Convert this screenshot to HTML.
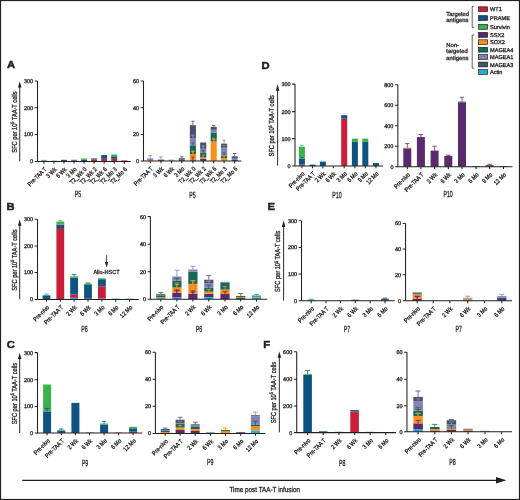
<!DOCTYPE html><html><head><meta charset="utf-8"><title>Figure</title><style>
html,body{margin:0;padding:0;background:#fff;overflow:hidden}svg{display:block;will-change:transform}text{text-rendering:geometricPrecision;font-family:"Liberation Sans",sans-serif;fill:#231f20;stroke:#231f20;stroke-width:0.3px}
</style></head><body>
<svg width="520" height="500" viewBox="0 0 520 500">
<rect x="0" y="0" width="520" height="500" fill="#fff"/>
<rect x="40.95" y="160.6" width="5.9" height="0.8" fill="#0f5383"/>
<rect x="40.95" y="159.9" width="5.9" height="0.7" fill="#3ab34c"/>
<rect x="50.99" y="160.6" width="5.9" height="0.8" fill="#3ab34c"/>
<rect x="61.03" y="159.8" width="5.9" height="1.6" fill="#0f5383"/>
<rect x="71.07" y="160.6" width="5.9" height="0.8" fill="#c8203a"/>
<rect x="71.07" y="159.8" width="5.9" height="0.8" fill="#0f5383"/>
<rect x="81.11" y="159.9" width="5.9" height="1.5" fill="#0f5383"/>
<rect x="81.11" y="158.5" width="5.9" height="1.4" fill="#3ab34c"/>
<rect x="91.15" y="159.7" width="5.9" height="1.7" fill="#c8203a"/>
<rect x="91.15" y="159.1" width="5.9" height="0.6" fill="#0f5383"/>
<rect x="91.15" y="158.4" width="5.9" height="0.7" fill="#c8203a"/>
<rect x="101.19" y="158.8" width="5.9" height="2.6" fill="#c8203a"/>
<rect x="101.19" y="155.1" width="5.9" height="3.7" fill="#0f5383"/>
<rect x="111.23" y="158.8" width="5.9" height="2.6" fill="#c8203a"/>
<rect x="111.23" y="156.3" width="5.9" height="2.5" fill="#0f5383"/>
<rect x="111.23" y="154.5" width="5.9" height="1.8" fill="#3ab34c"/>
<rect x="121.27" y="160.4" width="5.9" height="1" fill="#c8203a"/>
<path d="M37.5 80.9V161.4M34.7 80.9H37.5M34.7 107.7H37.5M34.7 134.4H37.5M34.7 161.4H37.5M34.7 161.4H130.8M43.9 161.4V163.8M53.94 161.4V163.8M63.98 161.4V163.8M74.02 161.4V163.8M84.06 161.4V163.8M94.1 161.4V163.8M104.14 161.4V163.8M114.18 161.4V163.8M124.22 161.4V163.8" stroke="#231f20" stroke-width="1.05" fill="none"/>
<text x="33.1" y="82.8" font-size="5.5" text-anchor="end">300</text>
<text x="33.1" y="109.6" font-size="5.5" text-anchor="end">200</text>
<text x="33.1" y="136.3" font-size="5.5" text-anchor="end">100</text>
<text x="33.1" y="163.3" font-size="5.5" text-anchor="end">0</text>
<text transform="translate(47 169.8) rotate(-45) scale(0.85 1)" font-size="6.2" text-anchor="end">Pre-TAA T</text>
<text transform="translate(57.04 169.8) rotate(-45) scale(0.85 1)" font-size="6.2" text-anchor="end">3 Wk</text>
<text transform="translate(67.08 169.8) rotate(-45) scale(0.85 1)" font-size="6.2" text-anchor="end">6 Wk</text>
<text transform="translate(77.12 169.8) rotate(-45) scale(0.85 1)" font-size="6.2" text-anchor="end">3 Mo</text>
<text transform="translate(87.16 169.8) rotate(-45) scale(0.85 1)" font-size="6.2" text-anchor="end">T2_Wk 0</text>
<text transform="translate(97.2 169.8) rotate(-45) scale(0.85 1)" font-size="6.2" text-anchor="end">T2_Wk 2</text>
<text transform="translate(107.24 169.8) rotate(-45) scale(0.85 1)" font-size="6.2" text-anchor="end">T2_Wk 6</text>
<text transform="translate(117.28 169.8) rotate(-45) scale(0.85 1)" font-size="6.2" text-anchor="end">T2_Mo 3</text>
<text transform="translate(127.32 169.8) rotate(-45) scale(0.85 1)" font-size="6.2" text-anchor="end">T2_Mo 6</text>
<text transform="translate(78 197.3) scale(0.6 1)" font-size="8.8" text-anchor="middle">P5</text>
<rect x="147.15" y="160" width="6.1" height="0.9" fill="#f7901e"/>
<rect x="147.15" y="158.4" width="6.1" height="1.6" fill="#8680ba"/>
<rect x="157.95" y="159.8" width="6.1" height="1.1" fill="#5a2a6c"/>
<rect x="157.95" y="159.4" width="6.1" height="0.4" fill="#8680ba"/>
<rect x="168.45" y="160.4" width="6.1" height="0.5" fill="#f7901e"/>
<rect x="168.45" y="159.7" width="6.1" height="0.7" fill="#25aae3"/>
<rect x="178.75" y="159.5" width="6.1" height="1.4" fill="#5a2a6c"/>
<rect x="178.75" y="158.2" width="6.1" height="1.3" fill="#465565"/>
<rect x="189.85" y="160.2" width="6.1" height="0.7" fill="#5a2a6c"/>
<rect x="189.85" y="154" width="6.1" height="6.2" fill="#f7901e"/>
<rect x="189.85" y="146" width="6.1" height="8" fill="#126a56"/>
<rect x="189.85" y="138.5" width="6.1" height="7.5" fill="#8680ba"/>
<rect x="189.85" y="125.2" width="6.1" height="13.3" fill="#465565"/>
<rect x="200.15" y="158.7" width="6.1" height="2.2" fill="#5a2a6c"/>
<rect x="200.15" y="157.5" width="6.1" height="1.2" fill="#f7901e"/>
<rect x="200.15" y="152.9" width="6.1" height="4.6" fill="#126a56"/>
<rect x="200.15" y="148.8" width="6.1" height="4.1" fill="#8680ba"/>
<rect x="200.15" y="142.5" width="6.1" height="6.3" fill="#465565"/>
<rect x="210.65" y="141.3" width="6.1" height="19.6" fill="#f7901e"/>
<rect x="210.65" y="132.7" width="6.1" height="8.6" fill="#126a56"/>
<rect x="210.65" y="129.8" width="6.1" height="2.9" fill="#8680ba"/>
<rect x="210.65" y="126.9" width="6.1" height="2.9" fill="#465565"/>
<rect x="221.05" y="158" width="6.1" height="2.9" fill="#f7901e"/>
<rect x="221.05" y="155.8" width="6.1" height="2.2" fill="#126a56"/>
<rect x="221.05" y="147.7" width="6.1" height="8.1" fill="#8680ba"/>
<rect x="221.05" y="143.6" width="6.1" height="4.1" fill="#465565"/>
<rect x="231.65" y="160" width="6.1" height="0.9" fill="#5a2a6c"/>
<rect x="231.65" y="158" width="6.1" height="2" fill="#8680ba"/>
<rect x="231.65" y="156.3" width="6.1" height="1.7" fill="#465565"/>
<path d="M192.9 161.7V157.2M191.38 157.2H194.43" stroke="#5a2a6c" stroke-width="0.8" fill="none"/>
<path d="M192.9 155.5V151M191.38 151H194.43" stroke="#f7901e" stroke-width="0.8" fill="none"/>
<path d="M192.9 147.5V143M191.38 143H194.43" stroke="#126a56" stroke-width="0.8" fill="none"/>
<path d="M192.9 140V135.5M191.38 135.5H194.43" stroke="#8680ba" stroke-width="0.8" fill="none"/>
<path d="M203.2 159V154.97M201.67 154.97H204.72" stroke="#f7901e" stroke-width="0.8" fill="none"/>
<path d="M203.2 154.4V150.65M201.67 150.65H204.72" stroke="#126a56" stroke-width="0.8" fill="none"/>
<path d="M203.2 150.3V145.8M201.67 145.8H204.72" stroke="#8680ba" stroke-width="0.8" fill="none"/>
<path d="M213.7 142.8V138.3M212.17 138.3H215.22" stroke="#f7901e" stroke-width="0.8" fill="none"/>
<path d="M224.1 157.3V152.8M222.57 152.8H225.62" stroke="#126a56" stroke-width="0.8" fill="none"/>
<path d="M224.1 149.2V145.44M222.57 145.44H225.62" stroke="#8680ba" stroke-width="0.8" fill="none"/>
<path d="M150.2 158.4V155.7M148.52 155.7H151.88" stroke="#8680ba" stroke-width="0.8" fill="none"/>
<path d="M161 159.4V156.8M159.32 156.8H162.68" stroke="#8680ba" stroke-width="0.8" fill="none"/>
<path d="M181.8 158.2V156.8M180.12 156.8H183.48" stroke="#465565" stroke-width="0.8" fill="none"/>
<path d="M192.9 125.2V121.2M191.22 121.2H194.58" stroke="#465565" stroke-width="0.8" fill="none"/>
<path d="M192.9 138.5V135M191.22 135H194.58" stroke="#8680ba" stroke-width="0.8" fill="none"/>
<path d="M192.9 154V151.5M191.22 151.5H194.58" stroke="#f7901e" stroke-width="0.8" fill="none"/>
<path d="M203.2 148.8V146.5M201.52 146.5H204.88" stroke="#8680ba" stroke-width="0.8" fill="none"/>
<path d="M213.7 126.9V125.5M212.02 125.5H215.38" stroke="#465565" stroke-width="0.8" fill="none"/>
<path d="M213.7 141.3V139.5M212.02 139.5H215.38" stroke="#f7901e" stroke-width="0.8" fill="none"/>
<path d="M224.1 143.6V140.2M222.42 140.2H225.78" stroke="#8680ba" stroke-width="0.8" fill="none"/>
<path d="M224.1 158V156M222.42 156H225.78" stroke="#f7901e" stroke-width="0.8" fill="none"/>
<path d="M234.7 156.3V153.5M233.02 153.5H236.38" stroke="#465565" stroke-width="0.8" fill="none"/>
<path d="M143.5 81V160.9M140.7 81H143.5M140.7 107.7H143.5M140.7 134.4H143.5M140.7 160.9H143.5M140.7 160.9H241.3M150.2 160.9V163.3M161 160.9V163.3M171.5 160.9V163.3M181.8 160.9V163.3M192.9 160.9V163.3M203.2 160.9V163.3M213.7 160.9V163.3M224.1 160.9V163.3M234.7 160.9V163.3" stroke="#231f20" stroke-width="1.05" fill="none"/>
<text x="139.1" y="82.9" font-size="5.5" text-anchor="end">60</text>
<text x="139.1" y="109.6" font-size="5.5" text-anchor="end">40</text>
<text x="139.1" y="136.3" font-size="5.5" text-anchor="end">20</text>
<text x="139.1" y="162.8" font-size="5.5" text-anchor="end">0</text>
<text transform="translate(153.3 169.3) rotate(-45) scale(0.85 1)" font-size="6.2" text-anchor="end">Pre-TAA T</text>
<text transform="translate(164.1 169.3) rotate(-45) scale(0.85 1)" font-size="6.2" text-anchor="end">3 Wk</text>
<text transform="translate(174.6 169.3) rotate(-45) scale(0.85 1)" font-size="6.2" text-anchor="end">6 Wk</text>
<text transform="translate(184.9 169.3) rotate(-45) scale(0.85 1)" font-size="6.2" text-anchor="end">3 Mo</text>
<text transform="translate(196 169.3) rotate(-45) scale(0.85 1)" font-size="6.2" text-anchor="end">T2_Wk 0</text>
<text transform="translate(206.3 169.3) rotate(-45) scale(0.85 1)" font-size="6.2" text-anchor="end">T2_Wk 2</text>
<text transform="translate(216.8 169.3) rotate(-45) scale(0.85 1)" font-size="6.2" text-anchor="end">T2_Wk 6</text>
<text transform="translate(227.2 169.3) rotate(-45) scale(0.85 1)" font-size="6.2" text-anchor="end">T2_Mo 3</text>
<text transform="translate(237.8 169.3) rotate(-45) scale(0.85 1)" font-size="6.2" text-anchor="end">T2_Mo 6</text>
<text transform="translate(192.5 197.6) scale(0.6 1)" font-size="8.8" text-anchor="middle">P5</text>
<rect x="298.9" y="164.5" width="6" height="1.4" fill="#c8203a"/>
<rect x="298.9" y="158.8" width="6" height="5.7" fill="#0f5383"/>
<rect x="298.9" y="146.7" width="6" height="12.1" fill="#3ab34c"/>
<rect x="309.5" y="164.6" width="6" height="1.3" fill="#0f5383"/>
<rect x="319.9" y="161.6" width="6" height="4.3" fill="#0f5383"/>
<rect x="341.2" y="118.7" width="6" height="47.2" fill="#c8203a"/>
<rect x="341.2" y="115.2" width="6" height="3.5" fill="#0f5383"/>
<rect x="351.9" y="141.9" width="6" height="24" fill="#0f5383"/>
<rect x="351.9" y="138.6" width="6" height="3.3" fill="#3ab34c"/>
<rect x="362.3" y="141.9" width="6" height="24" fill="#0f5383"/>
<rect x="362.3" y="138.6" width="6" height="3.3" fill="#3ab34c"/>
<rect x="372.9" y="163" width="6" height="2.9" fill="#0f5383"/>
<path d="M301.9 146.7V145.2M300.25 145.2H303.55" stroke="#3ab34c" stroke-width="0.8" fill="none"/>
<path d="M301.9 158.8V157.5M300.25 157.5H303.55" stroke="#0f5383" stroke-width="0.8" fill="none"/>
<path d="M295 84.1V165.9M292.2 84.1H295M292.2 111.6H295M292.2 138.6H295M292.2 165.9H295M292.2 165.9H382.9M301.9 165.9V168.3M312.5 165.9V168.3M322.9 165.9V168.3M333.3 165.9V168.3M344.2 165.9V168.3M354.9 165.9V168.3M365.3 165.9V168.3M375.9 165.9V168.3" stroke="#231f20" stroke-width="1.05" fill="none"/>
<text x="290.6" y="86" font-size="5.5" text-anchor="end">300</text>
<text x="290.6" y="113.5" font-size="5.5" text-anchor="end">200</text>
<text x="290.6" y="140.5" font-size="5.5" text-anchor="end">100</text>
<text x="290.6" y="167.8" font-size="5.5" text-anchor="end">0</text>
<text transform="translate(305 174.3) rotate(-45) scale(0.85 1)" font-size="6.2" text-anchor="end">Pre-nivo</text>
<text transform="translate(315.6 174.3) rotate(-45) scale(0.85 1)" font-size="6.2" text-anchor="end">Pre-TAA T</text>
<text transform="translate(326 174.3) rotate(-45) scale(0.85 1)" font-size="6.2" text-anchor="end">2 Wk</text>
<text transform="translate(336.4 174.3) rotate(-45) scale(0.85 1)" font-size="6.2" text-anchor="end">6 Wk</text>
<text transform="translate(347.3 174.3) rotate(-45) scale(0.85 1)" font-size="6.2" text-anchor="end">3 Mo</text>
<text transform="translate(358 174.3) rotate(-45) scale(0.85 1)" font-size="6.2" text-anchor="end">6 Mo</text>
<text transform="translate(368.4 174.3) rotate(-45) scale(0.85 1)" font-size="6.2" text-anchor="end">9 Mo</text>
<text transform="translate(379 174.3) rotate(-45) scale(0.85 1)" font-size="6.2" text-anchor="end">12 Mo</text>
<text transform="translate(336.9 197.6) scale(0.6 1)" font-size="8.8" text-anchor="middle">P10</text>
<rect x="403.3" y="148.3" width="8" height="18.5" fill="#5a2a6c"/>
<rect x="403.3" y="147.7" width="8" height="0.6" fill="#f7901e"/>
<rect x="416.9" y="137.1" width="8" height="29.7" fill="#5a2a6c"/>
<rect x="430.6" y="150.6" width="8" height="16.2" fill="#5a2a6c"/>
<rect x="444.3" y="155.9" width="8" height="10.9" fill="#5a2a6c"/>
<rect x="458" y="102.3" width="8" height="64.5" fill="#5a2a6c"/>
<rect x="458" y="101.6" width="8" height="0.7" fill="#126a56"/>
<rect x="472" y="166.2" width="8" height="0.6" fill="#0f5383"/>
<rect x="485.6" y="166" width="8" height="0.8" fill="#c8203a"/>
<rect x="485.6" y="165.2" width="8" height="0.8" fill="#5a2a6c"/>
<rect x="499.5" y="166.1" width="8" height="0.7" fill="#5a2a6c"/>
<path d="M407.3 147.7V143.6M405.1 143.6H409.5" stroke="#5a2a6c" stroke-width="0.8" fill="none"/>
<path d="M420.9 137.1V134.5M418.7 134.5H423.1" stroke="#5a2a6c" stroke-width="0.8" fill="none"/>
<path d="M434.6 150.6V146.2M432.4 146.2H436.8" stroke="#5a2a6c" stroke-width="0.8" fill="none"/>
<path d="M448.3 155.9V155.2M446.1 155.2H450.5" stroke="#5a2a6c" stroke-width="0.8" fill="none"/>
<path d="M462 101.6V97.3M459.8 97.3H464.2" stroke="#5a2a6c" stroke-width="0.8" fill="none"/>
<path d="M489.6 165.2V164.3M487.4 164.3H491.8" stroke="#5a2a6c" stroke-width="0.8" fill="none"/>
<path d="M397.85 84.8V166.8M395.05 84.8H397.85M395.05 105.3H397.85M395.05 125.7H397.85M395.05 146.2H397.85M395.05 166.8H397.85M395.05 166.8H512.5M407.3 166.8V169.2M420.9 166.8V169.2M434.6 166.8V169.2M448.3 166.8V169.2M462 166.8V169.2M476 166.8V169.2M489.6 166.8V169.2M503.5 166.8V169.2" stroke="#231f20" stroke-width="1.05" fill="none"/>
<text x="393.45" y="86.7" font-size="5.5" text-anchor="end">800</text>
<text x="393.45" y="107.2" font-size="5.5" text-anchor="end">600</text>
<text x="393.45" y="127.6" font-size="5.5" text-anchor="end">400</text>
<text x="393.45" y="148.1" font-size="5.5" text-anchor="end">200</text>
<text x="393.45" y="168.7" font-size="5.5" text-anchor="end">0</text>
<text transform="translate(410.4 175.2) rotate(-45) scale(0.85 1)" font-size="6.2" text-anchor="end">Pre-nivo</text>
<text transform="translate(424 175.2) rotate(-45) scale(0.85 1)" font-size="6.2" text-anchor="end">Pre-TAA T</text>
<text transform="translate(437.7 175.2) rotate(-45) scale(0.85 1)" font-size="6.2" text-anchor="end">2 Wk</text>
<text transform="translate(451.4 175.2) rotate(-45) scale(0.85 1)" font-size="6.2" text-anchor="end">6 Wk</text>
<text transform="translate(465.1 175.2) rotate(-45) scale(0.85 1)" font-size="6.2" text-anchor="end">3 Mo</text>
<text transform="translate(479.1 175.2) rotate(-45) scale(0.85 1)" font-size="6.2" text-anchor="end">6 Mo</text>
<text transform="translate(492.7 175.2) rotate(-45) scale(0.85 1)" font-size="6.2" text-anchor="end">9 Mo</text>
<text transform="translate(506.6 175.2) rotate(-45) scale(0.85 1)" font-size="6.2" text-anchor="end">12 Mo</text>
<text transform="translate(448.1 197.3) scale(0.6 1)" font-size="8.8" text-anchor="middle">P10</text>
<rect x="42.6" y="295.4" width="7.8" height="4.05" fill="#0f5383"/>
<rect x="42.6" y="294.9" width="7.8" height="0.5" fill="#3ab34c"/>
<rect x="56.4" y="228.9" width="7.8" height="70.55" fill="#c8203a"/>
<rect x="56.4" y="224.7" width="7.8" height="4.2" fill="#0f5383"/>
<rect x="56.4" y="221.6" width="7.8" height="3.1" fill="#3ab34c"/>
<rect x="70.2" y="297.8" width="7.8" height="1.65" fill="#25aae3"/>
<rect x="70.2" y="294.6" width="7.8" height="3.2" fill="#c8203a"/>
<rect x="70.2" y="277.7" width="7.8" height="16.9" fill="#0f5383"/>
<rect x="70.2" y="276.3" width="7.8" height="1.4" fill="#3ab34c"/>
<rect x="84.1" y="298.5" width="7.8" height="0.95" fill="#c8203a"/>
<rect x="84.1" y="285" width="7.8" height="13.5" fill="#0f5383"/>
<rect x="84.1" y="283.5" width="7.8" height="1.5" fill="#3ab34c"/>
<rect x="98" y="298.5" width="7.8" height="0.95" fill="#25aae3"/>
<rect x="98" y="286.5" width="7.8" height="12" fill="#c8203a"/>
<rect x="98" y="279.2" width="7.8" height="7.3" fill="#0f5383"/>
<rect x="98" y="278.3" width="7.8" height="0.9" fill="#3ab34c"/>
<rect x="111.9" y="298.6" width="7.8" height="0.85" fill="#3ab34c"/>
<rect x="125.7" y="298.6" width="7.8" height="0.85" fill="#25aae3"/>
<path d="M46.5 294.9V294.1M44.35 294.1H48.65" stroke="#25aae3" stroke-width="0.8" fill="none"/>
<path d="M60.3 221.6V220.8M58.15 220.8H62.45" stroke="#3ab34c" stroke-width="0.8" fill="none"/>
<path d="M60.3 228.9V225.5M58.15 225.5H62.45" stroke="#c8203a" stroke-width="0.8" fill="none"/>
<path d="M74.1 276.3V274.4M71.95 274.4H76.24" stroke="#0f5383" stroke-width="0.8" fill="none"/>
<path d="M88 283.5V283M85.86 283H90.14" stroke="#0f5383" stroke-width="0.8" fill="none"/>
<path d="M101.9 286.5V284.5M99.76 284.5H104.05" stroke="#c8203a" stroke-width="0.8" fill="none"/>
<path d="M37.5 219.3V299.45M34.7 219.3H37.5M34.7 245.9H37.5M34.7 272.5H37.5M34.7 299.45H37.5M34.7 299.45H138.8M46.5 299.45V301.85M60.3 299.45V301.85M74.1 299.45V301.85M88 299.45V301.85M101.9 299.45V301.85M115.8 299.45V301.85M129.6 299.45V301.85" stroke="#231f20" stroke-width="1.05" fill="none"/>
<text x="33.1" y="221.2" font-size="5.5" text-anchor="end">300</text>
<text x="33.1" y="247.8" font-size="5.5" text-anchor="end">200</text>
<text x="33.1" y="274.4" font-size="5.5" text-anchor="end">100</text>
<text x="33.1" y="301.35" font-size="5.5" text-anchor="end">0</text>
<text transform="translate(49.6 307.85) rotate(-45) scale(0.85 1)" font-size="6.2" text-anchor="end">Pre-nivo</text>
<text transform="translate(63.4 307.85) rotate(-45) scale(0.85 1)" font-size="6.2" text-anchor="end">Pre-TAA T</text>
<text transform="translate(77.2 307.85) rotate(-45) scale(0.85 1)" font-size="6.2" text-anchor="end">2 Wk</text>
<text transform="translate(91.1 307.85) rotate(-45) scale(0.85 1)" font-size="6.2" text-anchor="end">6 Wk</text>
<text transform="translate(105 307.85) rotate(-45) scale(0.85 1)" font-size="6.2" text-anchor="end">3 Mo</text>
<text transform="translate(118.9 307.85) rotate(-45) scale(0.85 1)" font-size="6.2" text-anchor="end">6 Mo</text>
<text transform="translate(132.7 307.85) rotate(-45) scale(0.85 1)" font-size="6.2" text-anchor="end">12 Mo</text>
<text transform="translate(84.4 331.7) scale(0.6 1)" font-size="8.8" text-anchor="middle">P6</text>
<rect x="156.2" y="298.2" width="9.2" height="1" fill="#25aae3"/>
<rect x="156.2" y="297.3" width="9.2" height="0.9" fill="#f7901e"/>
<rect x="156.2" y="295.5" width="9.2" height="1.8" fill="#126a56"/>
<rect x="156.2" y="294.2" width="9.2" height="1.3" fill="#465565"/>
<rect x="172.3" y="297.5" width="9.2" height="1.7" fill="#25aae3"/>
<rect x="172.3" y="292.8" width="9.2" height="4.7" fill="#5a2a6c"/>
<rect x="172.3" y="287.5" width="9.2" height="5.3" fill="#f7901e"/>
<rect x="172.3" y="280.5" width="9.2" height="7" fill="#126a56"/>
<rect x="172.3" y="276.5" width="9.2" height="4" fill="#8680ba"/>
<rect x="188.3" y="293.8" width="9.2" height="5.4" fill="#5a2a6c"/>
<rect x="188.3" y="283.9" width="9.2" height="9.9" fill="#f7901e"/>
<rect x="188.3" y="271.6" width="9.2" height="12.3" fill="#126a56"/>
<rect x="188.3" y="269.5" width="9.2" height="2.1" fill="#8680ba"/>
<rect x="204.2" y="297" width="9.2" height="2.2" fill="#25aae3"/>
<rect x="204.2" y="293.8" width="9.2" height="3.2" fill="#5a2a6c"/>
<rect x="204.2" y="291.7" width="9.2" height="2.1" fill="#f7901e"/>
<rect x="204.2" y="287.5" width="9.2" height="4.2" fill="#126a56"/>
<rect x="204.2" y="283.3" width="9.2" height="4.2" fill="#8680ba"/>
<rect x="204.2" y="279.7" width="9.2" height="3.6" fill="#465565"/>
<rect x="220.4" y="294" width="9.2" height="5.2" fill="#5a2a6c"/>
<rect x="220.4" y="289.6" width="9.2" height="4.4" fill="#f7901e"/>
<rect x="220.4" y="282.4" width="9.2" height="7.2" fill="#126a56"/>
<rect x="220.4" y="281.8" width="9.2" height="0.6" fill="#8680ba"/>
<rect x="236.1" y="298" width="9.2" height="1.2" fill="#126a56"/>
<rect x="236.1" y="297" width="9.2" height="1" fill="#f7901e"/>
<rect x="236.1" y="295.9" width="9.2" height="1.1" fill="#465565"/>
<rect x="251.9" y="298" width="9.2" height="1.2" fill="#25aae3"/>
<rect x="251.9" y="297" width="9.2" height="1" fill="#f7901e"/>
<rect x="251.9" y="295.4" width="9.2" height="1.6" fill="#25aae3"/>
<path d="M176.9 294.3V289.88M174.6 289.88H179.2" stroke="#5a2a6c" stroke-width="0.8" fill="none"/>
<path d="M176.9 289V284.5M174.6 284.5H179.2" stroke="#f7901e" stroke-width="0.8" fill="none"/>
<path d="M176.9 282V278.3M174.6 278.3H179.2" stroke="#126a56" stroke-width="0.8" fill="none"/>
<path d="M192.9 295.3V290.8M190.6 290.8H195.2" stroke="#5a2a6c" stroke-width="0.8" fill="none"/>
<path d="M192.9 285.4V280.9M190.6 280.9H195.2" stroke="#f7901e" stroke-width="0.8" fill="none"/>
<path d="M208.8 293.2V289.39M206.5 289.39H211.1" stroke="#f7901e" stroke-width="0.8" fill="none"/>
<path d="M208.8 289V285.19M206.5 285.19H211.1" stroke="#126a56" stroke-width="0.8" fill="none"/>
<path d="M208.8 284.8V281.32M206.5 281.32H211.1" stroke="#8680ba" stroke-width="0.8" fill="none"/>
<path d="M225 295.5V291.58M222.7 291.58H227.3" stroke="#5a2a6c" stroke-width="0.8" fill="none"/>
<path d="M225 291.1V286.6M222.7 286.6H227.3" stroke="#f7901e" stroke-width="0.8" fill="none"/>
<path d="M160.8 294.2V292.5M158.27 292.5H163.33" stroke="#465565" stroke-width="0.8" fill="none"/>
<path d="M176.9 276.5V270.2M174.37 270.2H179.43" stroke="#8680ba" stroke-width="0.8" fill="none"/>
<path d="M176.9 287.5V283M174.37 283H179.43" stroke="#f7901e" stroke-width="0.8" fill="none"/>
<path d="M176.9 292.8V290.5M174.37 290.5H179.43" stroke="#5a2a6c" stroke-width="0.8" fill="none"/>
<path d="M192.9 269.5V266.3M190.37 266.3H195.43" stroke="#8680ba" stroke-width="0.8" fill="none"/>
<path d="M192.9 283.9V280.5M190.37 280.5H195.43" stroke="#f7901e" stroke-width="0.8" fill="none"/>
<path d="M192.9 293.8V292M190.37 292H195.43" stroke="#5a2a6c" stroke-width="0.8" fill="none"/>
<path d="M208.8 279.7V275.4M206.27 275.4H211.33" stroke="#465565" stroke-width="0.8" fill="none"/>
<path d="M208.8 283.3V281M206.27 281H211.33" stroke="#8680ba" stroke-width="0.8" fill="none"/>
<path d="M240.7 295.9V293.5M238.17 293.5H243.23" stroke="#465565" stroke-width="0.8" fill="none"/>
<path d="M256.5 295.4V294.5M253.97 294.5H259.03" stroke="#25aae3" stroke-width="0.8" fill="none"/>
<path d="M150.4 216.6V299.2M147.6 216.6H150.4M147.6 244.2H150.4M147.6 271.8H150.4M147.6 299.2H150.4M147.6 299.2H267.3M160.8 299.2V301.6M176.9 299.2V301.6M192.9 299.2V301.6M208.8 299.2V301.6M225 299.2V301.6M240.7 299.2V301.6M256.5 299.2V301.6" stroke="#231f20" stroke-width="1.05" fill="none"/>
<text x="146" y="218.5" font-size="5.5" text-anchor="end">60</text>
<text x="146" y="246.1" font-size="5.5" text-anchor="end">40</text>
<text x="146" y="273.7" font-size="5.5" text-anchor="end">20</text>
<text x="146" y="301.1" font-size="5.5" text-anchor="end">0</text>
<text transform="translate(163.9 307.6) rotate(-45) scale(0.85 1)" font-size="6.2" text-anchor="end">Pre-nivo</text>
<text transform="translate(180 307.6) rotate(-45) scale(0.85 1)" font-size="6.2" text-anchor="end">Pre-TAA T</text>
<text transform="translate(196 307.6) rotate(-45) scale(0.85 1)" font-size="6.2" text-anchor="end">2 Wk</text>
<text transform="translate(211.9 307.6) rotate(-45) scale(0.85 1)" font-size="6.2" text-anchor="end">6 Wk</text>
<text transform="translate(228.1 307.6) rotate(-45) scale(0.85 1)" font-size="6.2" text-anchor="end">3 Mo</text>
<text transform="translate(243.8 307.6) rotate(-45) scale(0.85 1)" font-size="6.2" text-anchor="end">6 Mo</text>
<text transform="translate(259.6 307.6) rotate(-45) scale(0.85 1)" font-size="6.2" text-anchor="end">12 Mo</text>
<text transform="translate(199 331.7) scale(0.6 1)" font-size="8.8" text-anchor="middle">P6</text>
<rect x="307.45" y="299.6" width="7.5" height="1.2" fill="#3ab34c"/>
<rect x="351.45" y="299.7" width="7.5" height="1.1" fill="#0f5383"/>
<rect x="381.25" y="299.9" width="7.5" height="0.9" fill="#c8203a"/>
<rect x="381.25" y="298.6" width="7.5" height="1.3" fill="#0f5383"/>
<path d="M311.2 299.6V299.1M309.14 299.1H313.26" stroke="#3ab34c" stroke-width="0.8" fill="none"/>
<path d="M385 298.6V298.1M382.94 298.1H387.06" stroke="#0f5383" stroke-width="0.8" fill="none"/>
<path d="M301.5 220.8V300.8M298.7 220.8H301.5M298.7 247.4H301.5M298.7 274H301.5M298.7 300.8H301.5M298.7 300.8H394.7M311.2 300.8V303.2M326 300.8V303.2M340.4 300.8V303.2M355.2 300.8V303.2M370.2 300.8V303.2M385 300.8V303.2" stroke="#231f20" stroke-width="1.05" fill="none"/>
<text x="297.1" y="222.7" font-size="5.5" text-anchor="end">300</text>
<text x="297.1" y="249.3" font-size="5.5" text-anchor="end">200</text>
<text x="297.1" y="275.9" font-size="5.5" text-anchor="end">100</text>
<text x="297.1" y="302.7" font-size="5.5" text-anchor="end">0</text>
<text transform="translate(314.3 309.2) rotate(-45) scale(0.85 1)" font-size="6.2" text-anchor="end">Pre-nivo</text>
<text transform="translate(329.1 309.2) rotate(-45) scale(0.85 1)" font-size="6.2" text-anchor="end">Pre-TAA T</text>
<text transform="translate(343.5 309.2) rotate(-45) scale(0.85 1)" font-size="6.2" text-anchor="end">2 Wk</text>
<text transform="translate(358.3 309.2) rotate(-45) scale(0.85 1)" font-size="6.2" text-anchor="end">6 Wk</text>
<text transform="translate(373.3 309.2) rotate(-45) scale(0.85 1)" font-size="6.2" text-anchor="end">3 Mo</text>
<text transform="translate(388.1 309.2) rotate(-45) scale(0.85 1)" font-size="6.2" text-anchor="end">6 Mo</text>
<text transform="translate(347 331.7) scale(0.6 1)" font-size="8.8" text-anchor="middle">P7</text>
<rect x="412.6" y="298.7" width="9.2" height="2.1" fill="#5a2a6c"/>
<rect x="412.6" y="294.2" width="9.2" height="4.5" fill="#f7901e"/>
<rect x="412.6" y="292.8" width="9.2" height="1.4" fill="#3570a8"/>
<rect x="412.6" y="292.2" width="9.2" height="0.6" fill="#8680ba"/>
<rect x="463.1" y="300.3" width="9.2" height="0.5" fill="#126a56"/>
<rect x="463.1" y="299" width="9.2" height="1.3" fill="#f7901e"/>
<rect x="463.1" y="298.6" width="9.2" height="0.4" fill="#25aae3"/>
<rect x="463.1" y="297.8" width="9.2" height="0.8" fill="#8680ba"/>
<rect x="497.2" y="299" width="9.2" height="1.8" fill="#5a2a6c"/>
<rect x="497.2" y="297.8" width="9.2" height="1.2" fill="#126a56"/>
<rect x="497.2" y="296.6" width="9.2" height="1.2" fill="#8680ba"/>
<rect x="497.2" y="296.1" width="9.2" height="0.5" fill="#465565"/>
<path d="M417.2 300.2V296.22M414.9 296.22H419.5" stroke="#5a2a6c" stroke-width="0.8" fill="none"/>
<path d="M467.7 297.8V296.2M465.17 296.2H470.23" stroke="#8680ba" stroke-width="0.8" fill="none"/>
<path d="M501.8 296.1V294.4M499.27 294.4H504.33" stroke="#8680ba" stroke-width="0.8" fill="none"/>
<path d="M417.2 298.7V296.5M414.67 296.5H419.73" stroke="#5a2a6c" stroke-width="0.8" fill="none"/>
<path d="M405.55 223.4V300.8M402.75 223.4H405.55M402.75 249H405.55M402.75 274.7H405.55M402.75 300.8H405.55M402.75 300.8H512M417.2 300.8V303.2M433.2 300.8V303.2M449.9 300.8V303.2M467.7 300.8V303.2M484.6 300.8V303.2M501.8 300.8V303.2" stroke="#231f20" stroke-width="1.05" fill="none"/>
<text x="401.15" y="225.3" font-size="5.5" text-anchor="end">60</text>
<text x="401.15" y="250.9" font-size="5.5" text-anchor="end">40</text>
<text x="401.15" y="276.6" font-size="5.5" text-anchor="end">20</text>
<text x="401.15" y="302.7" font-size="5.5" text-anchor="end">0</text>
<text transform="translate(420.3 309.2) rotate(-45) scale(0.85 1)" font-size="6.2" text-anchor="end">Pre-nivo</text>
<text transform="translate(436.3 309.2) rotate(-45) scale(0.85 1)" font-size="6.2" text-anchor="end">Pre-TAA T</text>
<text transform="translate(453 309.2) rotate(-45) scale(0.85 1)" font-size="6.2" text-anchor="end">2 Wk</text>
<text transform="translate(470.8 309.2) rotate(-45) scale(0.85 1)" font-size="6.2" text-anchor="end">6 Wk</text>
<text transform="translate(487.7 309.2) rotate(-45) scale(0.85 1)" font-size="6.2" text-anchor="end">3 Mo</text>
<text transform="translate(504.9 309.2) rotate(-45) scale(0.85 1)" font-size="6.2" text-anchor="end">6 Mo</text>
<text transform="translate(458.6 332.2) scale(0.6 1)" font-size="8.8" text-anchor="middle">P7</text>
<rect x="43.1" y="411.4" width="8" height="21.5" fill="#0f5383"/>
<rect x="43.1" y="384.5" width="8" height="26.9" fill="#3ab34c"/>
<rect x="57.3" y="430.6" width="8" height="2.3" fill="#0f5383"/>
<rect x="57.3" y="430.1" width="8" height="0.5" fill="#3ab34c"/>
<rect x="71.4" y="402.9" width="8" height="30" fill="#0f5383"/>
<rect x="85.5" y="432.3" width="8" height="0.6" fill="#3ab34c"/>
<rect x="100.1" y="424.5" width="8" height="8.4" fill="#0f5383"/>
<rect x="100.1" y="423.5" width="8" height="1" fill="#3ab34c"/>
<rect x="114.6" y="432.5" width="8" height="0.4" fill="#c8203a"/>
<rect x="129.1" y="431.7" width="8" height="1.2" fill="#c8203a"/>
<rect x="129.1" y="428.3" width="8" height="3.4" fill="#0f5383"/>
<rect x="129.1" y="426.8" width="8" height="1.5" fill="#3ab34c"/>
<path d="M47.1 411.4V408.4M44.9 408.4H49.3" stroke="#0f5383" stroke-width="0.8" fill="none"/>
<path d="M61.3 430.1V429M59.1 429H63.5" stroke="#0f5383" stroke-width="0.8" fill="none"/>
<path d="M104.1 423.5V421.5M101.9 421.5H106.3" stroke="#0f5383" stroke-width="0.8" fill="none"/>
<path d="M37.5 352.6V432.9M34.7 352.6H37.5M34.7 379.7H37.5M34.7 406.4H37.5M34.7 432.9H37.5M34.7 432.9H142.3M47.1 432.9V435.3M61.3 432.9V435.3M75.4 432.9V435.3M89.5 432.9V435.3M104.1 432.9V435.3M118.6 432.9V435.3M133.1 432.9V435.3" stroke="#231f20" stroke-width="1.05" fill="none"/>
<text x="33.1" y="354.5" font-size="5.5" text-anchor="end">300</text>
<text x="33.1" y="381.6" font-size="5.5" text-anchor="end">200</text>
<text x="33.1" y="408.3" font-size="5.5" text-anchor="end">100</text>
<text x="33.1" y="434.8" font-size="5.5" text-anchor="end">0</text>
<text transform="translate(50.2 441.3) rotate(-45) scale(0.85 1)" font-size="6.2" text-anchor="end">Pre-nivo</text>
<text transform="translate(64.4 441.3) rotate(-45) scale(0.85 1)" font-size="6.2" text-anchor="end">Pre-TAA T</text>
<text transform="translate(78.5 441.3) rotate(-45) scale(0.85 1)" font-size="6.2" text-anchor="end">2 Wk</text>
<text transform="translate(92.6 441.3) rotate(-45) scale(0.85 1)" font-size="6.2" text-anchor="end">6 Wk</text>
<text transform="translate(107.2 441.3) rotate(-45) scale(0.85 1)" font-size="6.2" text-anchor="end">3 Mo</text>
<text transform="translate(121.7 441.3) rotate(-45) scale(0.85 1)" font-size="6.2" text-anchor="end">6 Mo</text>
<text transform="translate(136.2 441.3) rotate(-45) scale(0.85 1)" font-size="6.2" text-anchor="end">12 Mo</text>
<text transform="translate(84.9 465.9) scale(0.6 1)" font-size="8.8" text-anchor="middle">P9</text>
<rect x="160.7" y="432" width="9" height="1.4" fill="#f7901e"/>
<rect x="160.7" y="431" width="9" height="1" fill="#126a56"/>
<rect x="160.7" y="430" width="9" height="1" fill="#8680ba"/>
<rect x="160.7" y="429" width="9" height="1" fill="#465565"/>
<rect x="175.6" y="430" width="9" height="3.4" fill="#5a2a6c"/>
<rect x="175.6" y="427.5" width="9" height="2.5" fill="#f7901e"/>
<rect x="175.6" y="424" width="9" height="3.5" fill="#126a56"/>
<rect x="175.6" y="423.3" width="9" height="0.7" fill="#8680ba"/>
<rect x="175.6" y="419.7" width="9" height="3.6" fill="#465565"/>
<rect x="190.7" y="431" width="9" height="2.4" fill="#5a2a6c"/>
<rect x="190.7" y="429" width="9" height="2" fill="#f7901e"/>
<rect x="190.7" y="427" width="9" height="2" fill="#126a56"/>
<rect x="190.7" y="425.5" width="9" height="1.5" fill="#8680ba"/>
<rect x="190.7" y="424.3" width="9" height="1.2" fill="#465565"/>
<rect x="205.9" y="432.5" width="9" height="0.9" fill="#126a56"/>
<rect x="220.9" y="431" width="9" height="2.4" fill="#f7901e"/>
<rect x="220.9" y="430" width="9" height="1" fill="#126a56"/>
<rect x="236.2" y="432.2" width="9" height="1.2" fill="#5a2a6c"/>
<rect x="250.9" y="430.5" width="9" height="2.9" fill="#25aae3"/>
<rect x="250.9" y="426.2" width="9" height="4.3" fill="#f7901e"/>
<rect x="250.9" y="424.4" width="9" height="1.8" fill="#126a56"/>
<rect x="250.9" y="416.3" width="9" height="8.1" fill="#8680ba"/>
<rect x="250.9" y="415.2" width="9" height="1.1" fill="#465565"/>
<path d="M180.1 429V425.57M177.85 425.57H182.35" stroke="#f7901e" stroke-width="0.8" fill="none"/>
<path d="M180.1 424.8V421.32M177.85 421.32H182.35" stroke="#8680ba" stroke-width="0.8" fill="none"/>
<path d="M255.4 425.9V421.4M253.15 421.4H257.65" stroke="#126a56" stroke-width="0.8" fill="none"/>
<path d="M180.1 419.7V417.3M177.62 417.3H182.57" stroke="#465565" stroke-width="0.8" fill="none"/>
<path d="M195.2 424.3V422.2M192.72 422.2H197.67" stroke="#465565" stroke-width="0.8" fill="none"/>
<path d="M225.4 430V428M222.93 428H227.88" stroke="#f7901e" stroke-width="0.8" fill="none"/>
<path d="M255.4 415.2V412.1M252.93 412.1H257.88" stroke="#8680ba" stroke-width="0.8" fill="none"/>
<path d="M165.2 429V428M162.72 428H167.67" stroke="#465565" stroke-width="0.8" fill="none"/>
<path d="M155.4 352.2V433.4M152.6 352.2H155.4M152.6 379.2H155.4M152.6 406.2H155.4M152.6 433.4H155.4M152.6 433.4H265.4M165.2 433.4V435.8M180.1 433.4V435.8M195.2 433.4V435.8M210.4 433.4V435.8M225.4 433.4V435.8M240.7 433.4V435.8M255.4 433.4V435.8" stroke="#231f20" stroke-width="1.05" fill="none"/>
<text x="151" y="354.1" font-size="5.5" text-anchor="end">60</text>
<text x="151" y="381.1" font-size="5.5" text-anchor="end">40</text>
<text x="151" y="408.1" font-size="5.5" text-anchor="end">20</text>
<text x="151" y="435.3" font-size="5.5" text-anchor="end">0</text>
<text transform="translate(168.3 441.8) rotate(-45) scale(0.85 1)" font-size="6.2" text-anchor="end">Pre-nivo</text>
<text transform="translate(183.2 441.8) rotate(-45) scale(0.85 1)" font-size="6.2" text-anchor="end">Pre-TAA T</text>
<text transform="translate(198.3 441.8) rotate(-45) scale(0.85 1)" font-size="6.2" text-anchor="end">2 Wk</text>
<text transform="translate(213.5 441.8) rotate(-45) scale(0.85 1)" font-size="6.2" text-anchor="end">6 Wk</text>
<text transform="translate(228.5 441.8) rotate(-45) scale(0.85 1)" font-size="6.2" text-anchor="end">3 Mo</text>
<text transform="translate(243.8 441.8) rotate(-45) scale(0.85 1)" font-size="6.2" text-anchor="end">6 Mo</text>
<text transform="translate(258.5 441.8) rotate(-45) scale(0.85 1)" font-size="6.2" text-anchor="end">12 Mo</text>
<text transform="translate(210.2 465.3) scale(0.6 1)" font-size="8.8" text-anchor="middle">P9</text>
<rect x="303.3" y="374.9" width="8.6" height="57.7" fill="#0f5383"/>
<rect x="303.3" y="374.1" width="8.6" height="0.8" fill="#3ab34c"/>
<rect x="318.9" y="431.3" width="8.6" height="1.3" fill="#0f5383"/>
<rect x="334.6" y="431.8" width="8.6" height="0.8" fill="#0f5383"/>
<rect x="350.3" y="411.5" width="8.6" height="21.1" fill="#c8203a"/>
<rect x="350.3" y="410.1" width="8.6" height="1.4" fill="#0f5383"/>
<rect x="365.9" y="431.8" width="8.6" height="0.8" fill="#3ab34c"/>
<path d="M307.6 374.1V370.5M305.24 370.5H309.97" stroke="#0f5383" stroke-width="0.8" fill="none"/>
<path d="M296.7 351.7V432.6M293.9 351.7H296.7M293.9 379.2H296.7M293.9 405.9H296.7M293.9 432.6H296.7M293.9 432.6H396M307.6 432.6V435M323.2 432.6V435M338.9 432.6V435M354.6 432.6V435M370.2 432.6V435M385.8 432.6V435" stroke="#231f20" stroke-width="1.05" fill="none"/>
<text x="292.3" y="353.6" font-size="5.5" text-anchor="end">600</text>
<text x="292.3" y="381.1" font-size="5.5" text-anchor="end">400</text>
<text x="292.3" y="407.8" font-size="5.5" text-anchor="end">200</text>
<text x="292.3" y="434.5" font-size="5.5" text-anchor="end">0</text>
<text transform="translate(310.7 441) rotate(-45) scale(0.85 1)" font-size="6.2" text-anchor="end">Pre-nivo</text>
<text transform="translate(326.3 441) rotate(-45) scale(0.85 1)" font-size="6.2" text-anchor="end">Pre-TAA T</text>
<text transform="translate(342 441) rotate(-45) scale(0.85 1)" font-size="6.2" text-anchor="end">2 Wk</text>
<text transform="translate(357.7 441) rotate(-45) scale(0.85 1)" font-size="6.2" text-anchor="end">6 Wk</text>
<text transform="translate(373.3 441) rotate(-45) scale(0.85 1)" font-size="6.2" text-anchor="end">3 Mo</text>
<text transform="translate(388.9 441) rotate(-45) scale(0.85 1)" font-size="6.2" text-anchor="end">6 Mo</text>
<text transform="translate(342.2 465.6) scale(0.6 1)" font-size="8.8" text-anchor="middle">P8</text>
<rect x="413.35" y="429.1" width="9.5" height="2.7" fill="#25aae3"/>
<rect x="413.35" y="423.4" width="9.5" height="5.7" fill="#5a2a6c"/>
<rect x="413.35" y="416" width="9.5" height="7.4" fill="#f7901e"/>
<rect x="413.35" y="410.7" width="9.5" height="5.3" fill="#126a56"/>
<rect x="413.35" y="401.2" width="9.5" height="9.5" fill="#8680ba"/>
<rect x="413.35" y="396.9" width="9.5" height="4.3" fill="#465565"/>
<rect x="430.05" y="430.5" width="9.5" height="1.3" fill="#5a2a6c"/>
<rect x="430.05" y="429" width="9.5" height="1.5" fill="#f7901e"/>
<rect x="430.05" y="427" width="9.5" height="2" fill="#126a56"/>
<rect x="446.65" y="430" width="9.5" height="1.8" fill="#5a2a6c"/>
<rect x="446.65" y="428.5" width="9.5" height="1.5" fill="#f7901e"/>
<rect x="446.65" y="427.3" width="9.5" height="1.2" fill="#126a56"/>
<rect x="446.65" y="424" width="9.5" height="3.3" fill="#8680ba"/>
<rect x="446.65" y="420.2" width="9.5" height="3.8" fill="#465565"/>
<rect x="463.25" y="431" width="9.5" height="0.8" fill="#0f5383"/>
<rect x="463.25" y="430" width="9.5" height="1" fill="#f7901e"/>
<rect x="463.25" y="428.7" width="9.5" height="1.3" fill="#8680ba"/>
<rect x="480.25" y="431" width="9.5" height="0.8" fill="#f7901e"/>
<rect x="480.25" y="430.8" width="9.5" height="0.2" fill="#8680ba"/>
<path d="M418.1 424.9V420.4M415.73 420.4H420.48" stroke="#5a2a6c" stroke-width="0.8" fill="none"/>
<path d="M418.1 417.5V413.08M415.73 413.08H420.48" stroke="#f7901e" stroke-width="0.8" fill="none"/>
<path d="M418.1 412.2V407.7M415.73 407.7H420.48" stroke="#126a56" stroke-width="0.8" fill="none"/>
<path d="M418.1 402.7V398.83M415.73 398.83H420.48" stroke="#8680ba" stroke-width="0.8" fill="none"/>
<path d="M451.4 428.8V425.49M449.02 425.49H453.77" stroke="#126a56" stroke-width="0.8" fill="none"/>
<path d="M451.4 425.5V421.91M449.02 421.91H453.77" stroke="#8680ba" stroke-width="0.8" fill="none"/>
<path d="M418.1 396.9V391M415.49 391H420.71" stroke="#465565" stroke-width="0.8" fill="none"/>
<path d="M418.1 416V413.5M415.49 413.5H420.71" stroke="#f7901e" stroke-width="0.8" fill="none"/>
<path d="M418.1 410.7V409.5M415.49 409.5H420.71" stroke="#126a56" stroke-width="0.8" fill="none"/>
<path d="M434.8 427V424.4M432.19 424.4H437.41" stroke="#126a56" stroke-width="0.8" fill="none"/>
<path d="M451.4 420.2V419.5M448.79 419.5H454.01" stroke="#465565" stroke-width="0.8" fill="none"/>
<path d="M406.95 352.2V431.8M404.15 352.2H406.95M404.15 379.2H406.95M404.15 405.7H406.95M404.15 431.8H406.95M404.15 431.8H512M418.1 431.8V434.2M434.8 431.8V434.2M451.4 431.8V434.2M468 431.8V434.2M485 431.8V434.2M501.6 431.8V434.2" stroke="#231f20" stroke-width="1.05" fill="none"/>
<text x="402.55" y="354.1" font-size="5.5" text-anchor="end">60</text>
<text x="402.55" y="381.1" font-size="5.5" text-anchor="end">40</text>
<text x="402.55" y="407.6" font-size="5.5" text-anchor="end">20</text>
<text x="402.55" y="433.7" font-size="5.5" text-anchor="end">0</text>
<text transform="translate(421.2 440.2) rotate(-45) scale(0.85 1)" font-size="6.2" text-anchor="end">Pre-nivo</text>
<text transform="translate(437.9 440.2) rotate(-45) scale(0.85 1)" font-size="6.2" text-anchor="end">Pre-TAA T</text>
<text transform="translate(454.5 440.2) rotate(-45) scale(0.85 1)" font-size="6.2" text-anchor="end">2 Wk</text>
<text transform="translate(471.1 440.2) rotate(-45) scale(0.85 1)" font-size="6.2" text-anchor="end">6 Wk</text>
<text transform="translate(488.1 440.2) rotate(-45) scale(0.85 1)" font-size="6.2" text-anchor="end">3 Mo</text>
<text transform="translate(504.7 440.2) rotate(-45) scale(0.85 1)" font-size="6.2" text-anchor="end">6 Mo</text>
<text transform="translate(452.5 465.3) scale(0.6 1)" font-size="8.8" text-anchor="middle">P8</text>
<text transform="translate(7.1 68.3) scale(1.1 1)" font-size="10.2" font-weight="bold" style="stroke-width:0.5px">A</text>
<path d="M19.75 85.2V161.2" stroke="#231f20" stroke-width="0.95"/>
<path d="M19.75 81.2L18 87.6L21.5 87.6Z" fill="#231f20"/>
<text transform="translate(16.55 122) rotate(-90)" font-size="7.3" text-anchor="middle" textLength="61.3" lengthAdjust="spacingAndGlyphs">SFC per 10<tspan font-size="4.8" dy="-2.8">5</tspan><tspan dy="2.8"> TAA-T cells</tspan></text>
<text transform="translate(6.5 209.6) scale(1.1 1)" font-size="10.2" font-weight="bold" style="stroke-width:0.5px">B</text>
<path d="M19.7 223.4V299.2" stroke="#231f20" stroke-width="0.95"/>
<path d="M19.7 219.4L17.95 225.8L21.45 225.8Z" fill="#231f20"/>
<text transform="translate(16.5 260.1) rotate(-90)" font-size="7.3" text-anchor="middle" textLength="61.3" lengthAdjust="spacingAndGlyphs">SFC per 10<tspan font-size="4.8" dy="-2.8">5</tspan><tspan dy="2.8"> TAA-T cells</tspan></text>
<text transform="translate(6.8 347.6) scale(1.1 1)" font-size="10.2" font-weight="bold" style="stroke-width:0.5px">C</text>
<path d="M19.7 356.7V433" stroke="#231f20" stroke-width="0.95"/>
<path d="M19.7 352.7L17.95 359.1L21.45 359.1Z" fill="#231f20"/>
<text transform="translate(16.5 393.65) rotate(-90)" font-size="7.3" text-anchor="middle" textLength="61.3" lengthAdjust="spacingAndGlyphs">SFC per 10<tspan font-size="4.8" dy="-2.8">5</tspan><tspan dy="2.8"> TAA-T cells</tspan></text>
<text transform="translate(261.5 68.6) scale(1.1 1)" font-size="10.2" font-weight="bold" style="stroke-width:0.5px">D</text>
<path d="M277.6 88.3V165.6" stroke="#231f20" stroke-width="0.95"/>
<path d="M277.6 84.3L275.85 90.7L279.35 90.7Z" fill="#231f20"/>
<text transform="translate(274.4 125.75) rotate(-90)" font-size="7.3" text-anchor="middle" textLength="61.3" lengthAdjust="spacingAndGlyphs">SFC per 10<tspan font-size="4.8" dy="-2.8">5</tspan><tspan dy="2.8"> TAA-T cells</tspan></text>
<text transform="translate(267.4 209.6) scale(1.1 1)" font-size="10.2" font-weight="bold" style="stroke-width:0.5px">E</text>
<path d="M283.6 224.5V300.6" stroke="#231f20" stroke-width="0.95"/>
<path d="M283.6 220.5L281.85 226.9L285.35 226.9Z" fill="#231f20"/>
<text transform="translate(280.4 261.35) rotate(-90)" font-size="7.3" text-anchor="middle" textLength="61.3" lengthAdjust="spacingAndGlyphs">SFC per 10<tspan font-size="4.8" dy="-2.8">5</tspan><tspan dy="2.8"> TAA-T cells</tspan></text>
<text transform="translate(263.2 347.6) scale(1.1 1)" font-size="10.2" font-weight="bold" style="stroke-width:0.5px">F</text>
<path d="M279.35 355.4V432.3" stroke="#231f20" stroke-width="0.95"/>
<path d="M279.35 351.4L277.6 357.8L281.1 357.8Z" fill="#231f20"/>
<text transform="translate(276.15 392.65) rotate(-90)" font-size="7.3" text-anchor="middle" textLength="61.3" lengthAdjust="spacingAndGlyphs">SFC per 10<tspan font-size="4.8" dy="-2.8">5</tspan><tspan dy="2.8"> TAA-T cells</tspan></text>
<text transform="translate(93.4 273.9) scale(0.955 1)" font-size="5.8">Allo-HSCT</text>
<path d="M106.6 255.2V263" stroke="#231f20" stroke-width="0.85"/>
<path d="M106.6 267.5L104.85 261.9L108.35 261.9Z" fill="#231f20"/>
<rect x="478.6" y="6.8" width="9" height="4.8" fill="#c8203a" stroke="#231f20" stroke-width="0.7"/>
<text x="490" y="11.4" font-size="5.6">WT1</text>
<rect x="478.6" y="15.7" width="9" height="4.8" fill="#0f5383" stroke="#231f20" stroke-width="0.7"/>
<text x="490" y="20.3" font-size="5.6">PRAME</text>
<rect x="478.6" y="24.5" width="9" height="4.8" fill="#3ab34c" stroke="#231f20" stroke-width="0.7"/>
<text x="490" y="29.1" font-size="5.6">Survivin</text>
<rect x="478.6" y="32.5" width="9" height="4.8" fill="#5a2a6c" stroke="#231f20" stroke-width="0.7"/>
<text x="490" y="37.1" font-size="5.6">SSX2</text>
<rect x="478.6" y="39.8" width="9" height="4.8" fill="#f7901e" stroke="#231f20" stroke-width="0.7"/>
<text x="490" y="44.4" font-size="5.6">SOX2</text>
<rect x="478.6" y="47.3" width="9" height="4.8" fill="#126a56" stroke="#231f20" stroke-width="0.7"/>
<text x="490" y="51.9" font-size="5.6">MAGEA4</text>
<rect x="478.6" y="54.6" width="9" height="4.8" fill="#8680ba" stroke="#231f20" stroke-width="0.7"/>
<text x="490" y="59.2" font-size="5.6">MAGEA1</text>
<rect x="478.6" y="62.1" width="9" height="4.8" fill="#465565" stroke="#231f20" stroke-width="0.7"/>
<text x="490" y="66.7" font-size="5.6">MAGEA3</text>
<rect x="478.6" y="69.6" width="9" height="4.8" fill="#25aae3" stroke="#231f20" stroke-width="0.7"/>
<text x="490" y="74.2" font-size="5.6">Actin</text>
<path d="M474.3 6.6H472.2V27.4H474.3" stroke="#231f20" stroke-width="0.7" fill="none"/>
<path d="M474.3 35H472.2V68.2H474.3" stroke="#231f20" stroke-width="0.7" fill="none"/>
<text x="446.3" y="16.1" font-size="5.85">Targeted</text>
<text x="446.3" y="22.4" font-size="5.85">antigens</text>
<text x="446.3" y="46.8" font-size="5.85">Non-</text>
<text x="446.3" y="53.2" font-size="5.85">targeted</text>
<text x="446.3" y="59.9" font-size="5.85">antigens</text>
<path d="M22.2 480.3H497" stroke="#231f20" stroke-width="1.2"/>
<path d="M506.4 480.3L496 477L496 483.6Z" fill="#231f20"/>
<text x="229.4" y="491.9" font-size="7.3" textLength="70.6" lengthAdjust="spacingAndGlyphs">Time post TAA-T infusion</text>
<rect x="0.5" y="0.5" width="519" height="499" fill="none" stroke="#231f20" stroke-width="1.2"/>
</svg></body></html>
